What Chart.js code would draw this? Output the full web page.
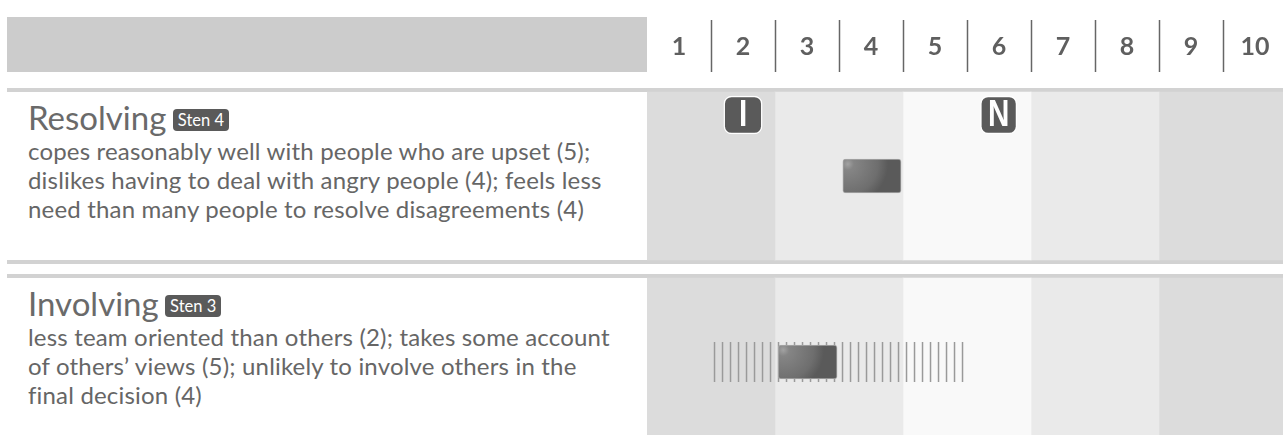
<!DOCTYPE html>
<html>
<head>
<meta charset="utf-8">
<style>
html, body { margin: 0; padding: 0; background: #fff; overflow: hidden; }
#page { position: relative; width: 1283px; height: 435px; overflow: hidden; font-family: Lato, sans-serif; color: #666; }
#chartbox { position: absolute; left: 0; top: 0; width: 1287px; height: 435px; }
.head { position: absolute; left: 7px; top: 17px; width: 640px; height: 55px; background: #ccc; }
.rule { position: absolute; left: 7px; right: 0; height: 4px; background: #d2d2d2; }
.row { position: absolute; left: 28px; width: 620px; white-space: nowrap; }
.title { font-size: 33px; line-height: 40px; color: #6a6a6a; }
.badge { display: inline-block; vertical-align: 4px; margin-left: -2px; padding: 0 5px; height: 22px; line-height: 22px; font-size: 16.5px; color: #fff; background: #5a5a5a; border-radius: 4px; }
.desc { font-size: 24px; line-height: 29px; letter-spacing: 0.18px; margin-top: -1px; }
</style>
</head>
<body>
<div id="page">
    <div class="head"></div>
    <div class="rule" style="top:88px"></div>
    <div class="rule" style="top:260px"></div>
    <div class="rule" style="top:274px"></div>
    <div id="rows"></div>
    <div id="chartbox"><canvas id="grafico" width="1287" height="435"></canvas></div>
</div>
<script src="https://cdn.jsdelivr.net/npm/chart.js@4"></script>
<script>
const stenLabels = ['1', '2', '3', '4', '5', '6', '7', '8', '9', '10'];
const rowNames = ['Resolving', 'Involving'];
const rowStens = ['Sten 4', 'Sten 3'];
const rowTexts = [
    ['copes reasonably well with people who are upset (5);', 'dislikes having to deal with angry people (4); feels less', 'need than many people to resolve disagreements (4)'],
    ['less team oriented than others (2); takes some account', 'of others\u2019 views (5); unlikely to involve others in the', 'final decision (4)']
];
const rowTops = [97, 283];

// colour bands behind each row, in sten units
const bandRanges = [[0, 2], [2, 4], [4, 6], [6, 8], [8, 10]];
const bandColors = ['#dcdcdc', '#eaeaea', '#f9f9f9', '#eaeaea', '#dcdcdc'];
const rowPositions = [1, 2];

// score bars
const scoreRanges = [[3.06, 3.97], [2.05, 2.97]];

// I / N markers of the first row
const markerLabels = ['I', 'N'];
const markerRanges = [[1.2, 1.8], [5.21, 5.78]];
const markerRow = 0.672;

// range ticks of the second row
const rangeTicks = [1.055, 1.18, 1.305, 1.43, 1.555, 1.68, 1.805, 1.93, 2.055, 2.18, 2.305, 2.43, 2.555, 2.68, 2.805, 2.93,
    3.055, 3.18, 3.305, 3.43, 3.555, 3.68, 3.805, 3.93, 4.055, 4.18, 4.305, 4.43, 4.555, 4.68, 4.805, 4.93];
const rangeRow = 2;

// left hand text
document.getElementById('rows').innerHTML = rowNames.map((nome, i) => `
    <div class="row" style="top:${rowTops[i]}px">
        <div class="title">${nome} <span class="badge">${rowStens[i]}</span></div>
        <div class="desc">${rowTexts[i].join('<br>')}</div>
    </div>`).join('');

function gradienteBarra(context) {
    const chart = context.chart;
    const range = scoreRanges[context.dataIndex];
    if (!range || !chart.chartArea) return '#5a5a5a';
    const x0 = chart.scales.x.getPixelForValue(range[0]);
    const x1 = chart.scales.x.getPixelForValue(range[1]);
    const yc = chart.scales.y.getPixelForValue(rowPositions[context.dataIndex]);
    const g = chart.ctx.createRadialGradient(x0 + 5, yc - 12, 0, x0 + 5, yc - 12, x1 - x0 - 8);
    g.addColorStop(0, '#a2a2a2');
    g.addColorStop(0.12, '#858585');
    g.addColorStop(0.6, '#6e6e6e');
    g.addColorStop(0.8, '#5a5a5a');
    g.addColorStop(1, '#5a5a5a');
    return g;
}

const bandDatasets = bandRanges.map((range, i) => ({
    type: 'bar',
    indexAxis: 'y',
    grouped: false,
    data: rowPositions.map(p => ({ x: range, y: p })),
    backgroundColor: bandColors[i],
    barThickness: 168,
    xAxisID: 'x',
    yAxisID: 'y',
    order: 10
}));

new Chart(document.getElementById('grafico'), {
    type: 'bar',
    data: {
        datasets: [
            ...bandDatasets,
            {
                type: 'scatter',
                data: rangeTicks.map(v => ({ x: v, y: rangeRow })),
                pointStyle: 'line',
                rotation: 90,
                pointRadius: 20,
                pointBorderColor: '#9a9a9a',
                pointBorderWidth: 1.5,
                xAxisID: 'x',
                yAxisID: 'y',
                order: 5
            },
            {
                type: 'bar',
                indexAxis: 'y',
                grouped: false,
                data: scoreRanges.map((r, i) => ({ x: r, y: rowPositions[i] })),
                backgroundColor: gradienteBarra,
                borderColor: '#a8a8a8',
                borderWidth: 1,
                borderSkipped: false,
                borderRadius: 3,
                barThickness: 34,
                xAxisID: 'x',
                yAxisID: 'y',
                order: 2
            },
            {
                type: 'bar',
                indexAxis: 'y',
                grouped: false,
                data: markerRanges.map(r => ({ x: r, y: markerRow })),
                backgroundColor: '#5a5a5a',
                borderColor: '#ffffff',
                borderWidth: 1.5,
                borderSkipped: false,
                borderRadius: 8,
                barThickness: 38,
                xAxisID: 'x',
                yAxisID: 'y',
                order: 1
            }
        ]
    },
    options: {
        responsive: false,
        animation: false,
        layout: { autoPadding: false, padding: { left: 647, right: 0, top: 0, bottom: 0 } },
        plugins: { legend: { display: false }, tooltip: { enabled: false } },
        scales: {
            x: { type: 'linear', min: 0, max: 10, offset: false, display: false },
            y: { type: 'linear', min: 0.4409, max: 2.3925, reverse: true, offset: false, display: false },
            x2: {
                type: 'category',
                position: 'top',
                labels: stenLabels,
                offset: true,
                border: { display: false },
                afterFit: (scale) => {
                    scale.height = 72;
                    scale.paddingLeft = 0;
                    scale.paddingRight = 0;
                },
                grid: {
                    offset: true,
                    drawOnChartArea: false,
                    tickLength: 52,
                    tickWidth: 1.5,
                    tickColor: (c) => c.index === 0 ? 'transparent' : '#666'
                },
                ticks: {
                    color: '#5f5f5f',
                    padding: -42,
                    maxRotation: 0,
                    autoSkip: false,
                    font: { family: 'Lato', size: 25, weight: 'bold' }
                }
            }
        }
    },
    plugins: [{
        id: 'markerLetters',
        afterDatasetsDraw: (chart) => {
            const { ctx } = chart;
            const meta = chart.getDatasetMeta(chart.data.datasets.length - 1);
            meta.data.forEach((bar, i) => {
                const c = bar.getCenterPoint();
                ctx.save();
                ctx.translate(c.x, c.y + 1);
                ctx.scale(0.8, 1); // the letters are narrow in the original
                ctx.fillStyle = '#fff';
                ctx.font = 'bold 37px "Liberation Sans"';
                ctx.textAlign = 'center';
                ctx.textBaseline = 'middle';
                ctx.fillText(markerLabels[i], 0, 0);
                ctx.restore();
            });
        }
    }]
});
</script>
</body>
</html>
